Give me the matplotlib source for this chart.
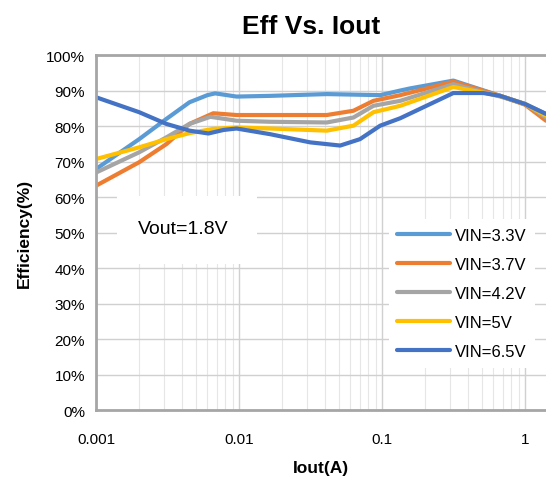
import matplotlib
matplotlib.use("Agg")
import matplotlib.pyplot as plt
from matplotlib.patches import Rectangle
from matplotlib.ticker import FuncFormatter, LogLocator, NullFormatter

plt.rcParams['font.family'] = ['Liberation Sans', 'DejaVu Sans']

# data (Iout in A, efficiency in %)
x_33 = [0.001, 0.002, 0.0031, 0.0045, 0.006, 0.0068, 0.0096, 0.0165, 0.041, 0.097, 0.134, 0.157, 0.315, 0.67, 1.0, 1.4]
y_33 = [67.9, 76.3, 82.0, 86.7, 88.7, 89.2, 88.3, 88.5, 89.0, 88.7, 90.0, 90.6, 92.8, 88.5, 86.2, 83.4]

x_37 = [0.001, 0.002, 0.0031, 0.0045, 0.0066, 0.0096, 0.0165, 0.041, 0.063, 0.087, 0.134, 0.315, 0.67, 1.0, 1.4]
y_37 = [63.2, 69.8, 74.9, 80.6, 83.6, 83.1, 83.1, 83.1, 84.3, 87.1, 88.7, 92.5, 88.5, 86.0, 81.5]

x_42 = [0.001, 0.002, 0.0031, 0.0045, 0.0063, 0.0096, 0.0165, 0.041, 0.063, 0.087, 0.134, 0.315, 0.67, 1.0, 1.4]
y_42 = [66.9, 72.6, 76.8, 80.6, 82.6, 81.5, 81.2, 81.0, 82.4, 85.7, 87.1, 91.8, 88.3, 86.2, 82.4]

x_5 = [0.001, 0.002, 0.0031, 0.0045, 0.0066, 0.0096, 0.0165, 0.041, 0.063, 0.087, 0.134, 0.315, 0.67, 1.0, 1.4]
y_5 = [70.7, 74.0, 76.3, 78.0, 79.2, 79.6, 79.3, 78.7, 80.1, 83.9, 85.7, 91.0, 88.5, 86.2, 82.9]

x_65 = [0.001, 0.002, 0.0031, 0.0045, 0.0061, 0.0078, 0.0096, 0.0165, 0.0314, 0.0509, 0.070, 0.097, 0.134, 0.315, 0.51, 0.67, 1.0, 1.4]
y_65 = [88.1, 83.9, 80.6, 78.7, 77.9, 78.9, 79.3, 77.7, 75.4, 74.5, 76.3, 80.1, 82.2, 89.3, 89.3, 88.5, 86.2, 83.4]

series = [
    ("VIN=3.3V", x_33, y_33, "#5B9BD5"),
    ("VIN=3.7V", x_37, y_37, "#ED7D31"),
    ("VIN=4.2V", x_42, y_42, "#A5A5A5"),
    ("VIN=5V", x_5, y_5, "#FFC000"),
    ("VIN=6.5V", x_65, y_65, "#4472C4"),
]

fig = plt.figure(figsize=(5.46, 4.81), dpi=100)
ax = fig.add_axes([0.176, 0.1455, 0.824, 0.738])

for name, xs, ys, c in series:
    ax.plot(xs, ys, color=c, lw=3, label=name,
            solid_capstyle='round', solid_joinstyle='round')

ax.set_xscale('log')
ax.set_xlim(0.001, 1.4)
ax.set_ylim(0, 100)
ax.set_yticks(range(0, 101, 10))
ax.yaxis.set_major_formatter(FuncFormatter(lambda v, p: f"{int(v)}%"))
ax.xaxis.set_major_formatter(FuncFormatter(lambda v, p: f"{v:g}"))
ax.xaxis.set_minor_locator(LogLocator(base=10, subs=range(2, 10)))
ax.xaxis.set_minor_formatter(NullFormatter())

ax.grid(True, which='major', color='#D0D0D0', lw=1)
ax.grid(True, which='minor', axis='x', color='#E6E6E6', lw=0.8)
ax.set_axisbelow(True)
ax.tick_params(which='both', length=0, labelsize=11)
ax.tick_params(axis='x', pad=16)
ax.tick_params(axis='y', pad=8)

for s in ['left', 'bottom', 'top']:
    ax.spines[s].set_color('#A6A6A6')
    ax.spines[s].set_linewidth(2)
ax.spines['right'].set_visible(False)

fig.text(0.57, 0.944, "Eff Vs. Iout", fontsize=19, fontweight='bold',
         ha='center', va='center')
ax.set_xlabel("Iout(A)", fontsize=12.5, fontweight='bold', labelpad=10)
ax.set_ylabel("Efficiency(%)", fontsize=12.5, fontweight='bold', labelpad=10)

# white box behind the Vout note
ax.add_patch(Rectangle((0.047, 0.41), 0.31, 0.193, transform=ax.transAxes,
                       facecolor='white', edgecolor='none', zorder=1.5))
ax.text(0.093, 0.51, "Vout=1.8V", transform=ax.transAxes, fontsize=14,
        va='center', ha='left', zorder=3)

leg = ax.legend(loc='lower right', bbox_to_anchor=(0.993, 0.096), frameon=True,
                fontsize=12, handlelength=3.2, labelspacing=0.85,
                borderpad=0.5, handletextpad=0.25)
leg.get_frame().set_edgecolor('none')
leg.get_frame().set_facecolor('white')
leg.get_frame().set_alpha(1)
leg.get_frame().set_boxstyle('square', pad=0)

fig.savefig("out.png", dpi=100)
